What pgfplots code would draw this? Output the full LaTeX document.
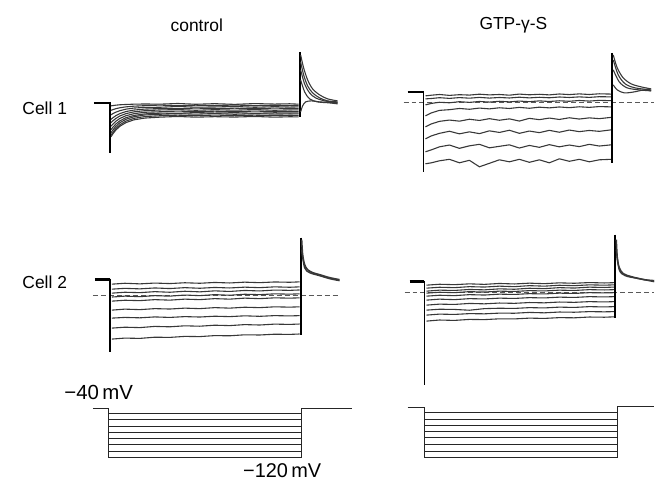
\documentclass[border=0pt]{standalone}
\usepackage{fontspec}
\setmainfont{Liberation Sans}
\usepackage{pgfplots}
\pgfplotsset{compat=1.18}
\tikzset{tr/.style={line width=1.1pt, black!78, line join=round},
  thk/.style={line width=2.4pt, black},
  vt/.style={line width=1.8pt, black},
  pr/.style={line width=1.25pt, black!85},
  dsh/.style={line width=0.9pt, black!65, dash pattern=on 5bp off 3bp}}
\begin{document}
\begin{tikzpicture}
\begin{axis}[scale only axis, width=655bp, height=481bp,
  xmin=0, xmax=655, ymin=0, ymax=481, y dir=reverse,
  hide axis, clip=false, no markers]
\path (rel axis cs:0,0) rectangle (rel axis cs:1,1);
% ---------- labels ----------
\node[font=\fontsize{17.5}{20}\selectfont] at (197,25) {control};
\node[font=\fontsize{17.5}{20}\selectfont] at (514,25) {GTP-γ-S};
\node[font=\fontsize{17.5}{20}\selectfont, anchor=west] at (19,108) {Cell 1};
\node[font=\fontsize{17.5}{20}\selectfont, anchor=west] at (19,283) {Cell 2};
\node[font=\fontsize{20.5}{24}\selectfont, anchor=west] at (61,393) {−40\,mV};
\node[font=\fontsize{20}{24}\selectfont, anchor=west] at (240,471) {−120\,mV};
% ---------- Cell 1 control ----------
\addplot[tr] coordinates {(111,106) (113,105.7) (116,105.3) (120,104.9) (126,104.6) (134,104.3) (145,104.1) (160,104.3) (178,103.6) (196,104.4) (215,103.8) (235,104.5) (255,103.7) (275,104.2) (290,103.9) (299,104.3)};
\addplot[tr] coordinates {(111,110.5) (113,109.8) (116,108.8) (120,107.9) (126,107) (134,106.3) (145,105.8) (160,105.2) (178,105.9) (196,105.3) (215,105.8) (235,105.1) (255,105.9) (275,105.4) (290,105.7) (299,105.5)};
\addplot[tr] coordinates {(111,115) (113,113.8) (116,112.3) (120,110.8) (126,109.3) (134,108.2) (145,107.5) (160,107.4) (178,106.6) (196,107.3) (215,107.1) (235,106.6) (255,107.4) (275,106.8) (290,107.2) (299,107)};
\addplot[tr] coordinates {(111,119.5) (113,117.9) (116,115.8) (120,113.7) (126,111.7) (134,110.2) (145,109.2) (160,108.7) (178,108.9) (196,108.2) (215,108.8) (235,108.3) (255,108.9) (275,108.2) (290,108.6) (299,108.5)};
\addplot[tr] coordinates {(111,123) (113,121) (116,118.6) (120,116.1) (126,113.8) (134,112) (145,110.8) (160,110.1) (178,109.7) (196,110.4) (215,109.8) (235,110.3) (255,109.7) (275,110.4) (290,110) (299,110)};
\addplot[tr] coordinates {(111,126.5) (113,124.3) (116,121.4) (120,118.6) (126,115.9) (134,113.8) (145,112.4) (160,111.9) (178,111.2) (196,111.8) (215,111.3) (235,111.9) (255,111.2) (275,111.7) (290,111.4) (299,111.5)};
\addplot[tr] coordinates {(111,130) (113,127.5) (116,124.2) (120,121) (126,117.9) (134,115.6) (145,114) (160,113.3) (178,113.4) (196,112.7) (215,113.2) (235,112.8) (255,113.4) (275,112.9) (290,113.1) (299,113)};
\addplot[tr] coordinates {(111,133) (113,130.2) (116,126.5) (120,122.9) (126,119.5) (134,116.9) (145,115.1) (160,114.4) (178,113.8) (196,114.3) (215,113.7) (235,114.4) (255,113.8) (275,114.2) (290,114) (299,114)};
\addplot[tr] coordinates {(111,135.5) (113,132.5) (116,128.7) (120,124.9) (126,121.3) (134,118.5) (145,116.7) (160,115.9) (178,115.3) (196,115.9) (215,115.2) (235,115.7) (255,115.3) (275,115.8) (290,115.4) (299,115.5)};
\addplot[tr] coordinates {(111,137) (113,134) (116,130.2) (120,126.4) (126,122.8) (134,120) (145,118.2) (160,117.3) (178,116.6) (196,117.3) (215,116.8) (235,117.2) (255,116.6) (275,117.3) (290,116.9) (299,117)};
\addplot[thk] coordinates {(94,103) (110,103)};
\addplot[vt] coordinates {(110,102) (110,153)};
\addplot[vt] coordinates {(300,52) (300,117)};
\addplot[tr, smooth] coordinates {(301,55) (304,68) (308,80) (313,89) (320,95) (328,99) (338,101)};
\addplot[tr, smooth] coordinates {(301,62) (304,75) (308,86) (313,93) (320,98) (328,101) (338,102)};
\addplot[tr, smooth] coordinates {(301,70) (305,84) (310,93) (316,98) (325,101) (338,103)};
\addplot[tr, smooth] coordinates {(301,80) (305,92) (310,99) (318,102) (330,103) (338,104)};
\addplot[tr, smooth] coordinates {(301,112) (303,106) (306,102) (312,101) (320,102) (338,103)};
% ---------- Cell 1 GTP ----------
\addplot[dsh] coordinates {(404,103) (655,103)};
\addplot[tr] coordinates {(426,96) (432,95.3) (440,94.6) (450,95.5) (460,94.8) (470,95.2) (480,94.3) (490,95) (500,94.6) (510,95.3) (520,94.2) (530,94.9) (540,94.4) (550,95) (560,94.1) (570,94.7) (580,94) (590,94.6) (600,93.9) (612,94.2)};
\addplot[tr] coordinates {(426,99) (432,98.6) (440,97.8) (450,98.5) (460,97.7) (470,98.3) (480,97.5) (490,98.2) (500,97.6) (510,98.1) (520,97.3) (530,98) (540,97.4) (550,97.9) (560,97.1) (570,97.6) (580,97) (590,97.5) (600,96.8) (612,97)};
\addplot[tr] coordinates {(426,105) (432,103.5) (440,102.4) (450,102.9) (460,101.8) (470,102.5) (480,101.6) (490,102.2) (500,101.4) (510,102) (520,101.2) (530,101.8) (540,101) (550,101.6) (560,100.9) (570,101.4) (580,100.6) (590,101.2) (600,100.5) (612,100.8)};
\addplot[tr] coordinates {(426,116) (432,113) (440,110.5) (450,109.8) (460,108.6) (470,109.4) (480,108.2) (490,109) (500,107.9) (510,108.6) (520,107.5) (530,108.4) (540,107.3) (550,108) (560,107.1) (570,107.8) (580,106.9) (590,107.5) (600,106.7) (612,107)};
\addplot[tr] coordinates {(426,127) (432,124) (440,121.5) (450,120.2) (460,121.3) (470,119.4) (480,120.6) (490,118.8) (500,120.4) (510,119) (520,121.2) (530,118.5) (540,119.8) (550,118.2) (560,119.6) (570,117.9) (580,119.2) (590,118) (600,118.8) (612,117.5)};
\addplot[tr] coordinates {(426,139) (432,136) (440,133.5) (450,131.4) (460,134) (470,132) (480,133.8) (490,131) (500,132.6) (510,130.4) (520,133.5) (530,131.2) (540,132.8) (550,130.5) (560,132.4) (570,130.2) (580,131.8) (590,130.6) (600,131.5) (612,130)};
\addplot[tr] coordinates {(426,152) (432,150) (440,147) (450,145.2) (460,148.5) (470,146) (480,144.5) (490,148) (500,146.5) (510,145) (520,148.2) (530,145.6) (540,147.5) (550,144.8) (560,147) (570,145.2) (580,146.8) (590,144.5) (600,146.2) (612,145)};
\addplot[tr] coordinates {(426,164) (432,163) (440,161) (450,159.5) (460,163) (470,160.5) (480,167) (490,163.5) (500,160) (510,162) (520,159.5) (530,162.5) (540,160) (550,163) (560,159) (570,161.5) (580,159.5) (590,162) (600,160) (612,159.5)};
\addplot[thk] coordinates {(408,92) (424,92)};
\addplot[vt] coordinates {(424,91) (424,172)};
\addplot[vt] coordinates {(613,53) (613,163)};
\addplot[tr, smooth] coordinates {(614,55) (618,68) (624,78) (632,84) (642,87) (652,89)};
\addplot[tr, smooth] coordinates {(614,60) (619,75) (626,84) (636,88) (652,90)};
\addplot[tr, smooth] coordinates {(614,70) (620,82) (628,88) (640,90) (652,91)};
\addplot[tr, smooth] coordinates {(614,85) (618,90) (625,93) (635,92) (645,90) (652,91)};
% ---------- Cell 2 control ----------
\addplot[dsh] coordinates {(93,296) (340,296)};
\addplot[tr] coordinates {(112,284.5) (125,283.6) (140,284.2) (155,283.4) (170,283.9) (185,283.1) (200,283.6) (215,282.8) (230,283.3) (245,282.5) (260,283) (275,282.3) (290,282.6) (300,282.2)};
\addplot[tr] coordinates {(112,289.5) (125,288.7) (140,289.2) (155,288.3) (170,288.9) (185,288) (200,288.6) (215,287.8) (230,288.3) (245,287.5) (260,288) (275,287.2) (290,287.6) (300,287.2)};
\addplot[tr] coordinates {(112,293.5) (125,292.6) (140,293) (155,292) (170,292.6) (185,291.6) (200,292.2) (215,291.2) (230,291.8) (245,290.8) (260,291.3) (275,290.4) (290,290.7) (300,290.3)};
\addplot[tr] coordinates {(112,297.4) (125,296.5) (140,297) (155,296) (170,296.5) (185,295.4) (200,296) (215,295) (230,295.6) (245,294.6) (260,295) (275,294.2) (290,294.5) (300,294.2)};
\addplot[tr] coordinates {(112,301.5) (125,300.6) (140,301) (155,300) (170,300.5) (185,299.5) (200,300) (215,299) (230,299.5) (245,298.5) (260,299) (275,298.2) (290,298.5) (300,298.2)};
\addplot[tr] coordinates {(112,310.5) (125,309.5) (140,310) (155,309) (170,309.4) (185,308.5) (200,309) (215,308) (230,308.5) (245,307.6) (260,308) (275,307.2) (290,307.5) (300,307.2)};
\addplot[tr] coordinates {(112,318.5) (125,317.8) (140,318.2) (155,317.3) (170,317.8) (185,317) (200,317.4) (215,316.6) (230,317) (245,316.2) (260,316.7) (275,316) (290,316.3) (300,316)};
\addplot[tr] coordinates {(112,328.5) (125,327.6) (140,328) (155,326.8) (170,327.2) (185,326.2) (200,326.6) (215,325.6) (230,326) (245,325) (260,325.4) (275,324.5) (290,324.8) (300,324.4)};
\addplot[tr] coordinates {(112,339.5) (125,338.5) (140,338.8) (155,337.6) (170,337.8) (185,336.8) (200,337) (215,336) (230,336.2) (245,335.2) (260,335.4) (275,334.6) (290,334.8) (300,334.4)};
\addplot[thk] coordinates {(95,280) (110,280)};
\addplot[vt] coordinates {(110,279) (110,352)};
\addplot[vt] coordinates {(301,238) (301,335)};
\addplot[tr, smooth, line width=1.6pt] coordinates {(302,240) (303,255) (305,265) (308,270) (313,273) (320,275) (330,278) (340,280)};
\addplot[tr, smooth, line width=1.4pt] coordinates {(302,250) (305,268) (310,273) (320,276) (330,279) (340,281)};
% ---------- Cell 2 GTP ----------
\addplot[dsh] coordinates {(405,293) (655,293)};
\addplot[tr] coordinates {(427,285.5) (440,284.6) (455,285) (470,284.2) (485,284.7) (500,283.8) (515,284.3) (530,283.5) (545,284) (560,283.2) (575,283.6) (590,282.9) (605,283.3) (615,283)};
\addplot[tr] coordinates {(427,288.5) (440,287.6) (455,288) (470,287) (485,287.4) (500,286.5) (515,287) (530,286) (545,286.5) (560,285.6) (575,286) (590,285.2) (605,285.5) (615,285.2)};
\addplot[tr] coordinates {(427,291.5) (440,290.5) (455,290.8) (470,289.8) (485,290.2) (500,289.2) (515,289.6) (530,288.6) (545,289) (560,288) (575,288.4) (590,287.5) (605,287.8) (615,287.4)};
\addplot[tr] coordinates {(427,293.5) (440,292.6) (455,293) (470,292) (485,292.4) (500,291.5) (515,291.8) (530,291) (545,291.3) (560,290.5) (575,290.8) (590,290) (605,290.3) (615,290)};
\addplot[tr] coordinates {(427,296.5) (440,295.6) (455,296) (470,295) (485,295.4) (500,294.5) (515,294.8) (530,294) (545,294.3) (560,293.5) (575,293.8) (590,293) (605,293.3) (615,293)};
\addplot[tr] coordinates {(427,300.5) (440,299.5) (455,300) (470,299) (485,299.3) (500,298.5) (515,298.8) (530,298) (545,298.3) (560,297.5) (575,297.8) (590,297) (605,297.3) (615,297)};
\addplot[tr] coordinates {(427,305.5) (440,304.5) (455,304.8) (470,303.8) (485,304.2) (500,303.4) (515,303.7) (530,302.9) (545,303.2) (560,302.4) (575,302.7) (590,302) (605,302.3) (615,302)};
\addplot[tr] coordinates {(427,310.5) (440,309.6) (455,309.8) (470,310.6) (485,309) (500,308.6) (515,308.8) (530,308) (545,308.3) (560,307.5) (575,307.8) (590,307) (605,307.3) (615,307)};
\addplot[tr] coordinates {(427,315.5) (440,314.5) (455,314.8) (470,314) (485,314.2) (500,313.5) (515,313.6) (530,312.8) (545,313.2) (560,312.4) (575,312.6) (590,312) (605,312.2) (615,312)};
\addplot[tr] coordinates {(427,321.5) (440,320.4) (455,320.8) (470,319.8) (485,320) (500,319.2) (515,319.3) (530,318.5) (545,318.8) (560,318) (575,318.2) (590,317.4) (605,317.6) (615,317.2)};
\addplot[thk] coordinates {(410,282) (425,282)};
\addplot[vt] coordinates {(425,281) (425,385)};
\addplot[vt] coordinates {(616,235) (616,318)};
\addplot[tr, smooth, line width=1.6pt] coordinates {(617,240) (618,258) (620,268) (624,274) (632,277) (645,280) (655,281)};
\addplot[tr, smooth, line width=1.4pt] coordinates {(617,250) (620,270) (626,276) (640,279) (655,282)};
% ---------- voltage protocol control ----------
\addplot[pr] coordinates {(93,409) (109,409) (109,458) (302,458) (302,409) (352,409)};
\addplot[pr] coordinates {(109,414) (302,414)};
\addplot[pr] coordinates {(109,420) (302,420)};
\addplot[pr] coordinates {(109,427) (302,427)};
\addplot[pr] coordinates {(109,433) (302,433)};
\addplot[pr] coordinates {(109,439) (302,439)};
\addplot[pr] coordinates {(109,445) (302,445)};
\addplot[pr] coordinates {(109,452) (302,452)};
% ---------- voltage protocol GTP ----------
\addplot[pr] coordinates {(408,408) (425,408) (425,458) (618,458) (618,407) (655,407)};
\addplot[pr] coordinates {(425,413) (618,413)};
\addplot[pr] coordinates {(425,420) (618,420)};
\addplot[pr] coordinates {(425,426) (618,426)};
\addplot[pr] coordinates {(425,432) (618,432)};
\addplot[pr] coordinates {(425,438) (618,438)};
\addplot[pr] coordinates {(425,445) (618,445)};
\addplot[pr] coordinates {(425,452) (618,452)};
\end{axis}
\end{tikzpicture}
\end{document}
